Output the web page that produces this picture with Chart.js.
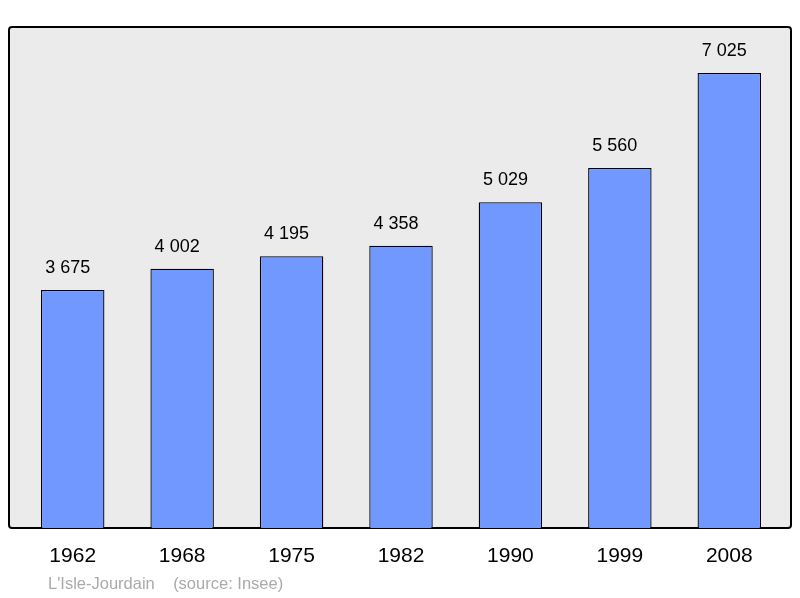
<!DOCTYPE html>
<html lang="fr">
<head>
  <meta charset="UTF-8">
  <title>L'Isle-Jourdain population</title>
  <script src="https://cdn.jsdelivr.net/npm/chart.js"></script>
  <style>
    body { margin: 0; background: #fff; }
    .chart-container { width: 800px; height: 598px; }
  </style>
</head>
<body>
  <div class="chart-container">
    <canvas id="myChart"></canvas>
  </div>
  <script>
    const years = ['1962', '1968', '1975', '1982', '1990', '1999', '2008'];
    const population = [3675, 4002, 4195, 4358, 5029, 5560, 7025];
    const sourceText = "L'Isle-Jourdain    (source: Insee)";

    const fmt = v => String(v).replace(/\B(?=(\d{3})+(?!\d))/g, ' ');

    // frame behind the bars, plus value labels, year labels and source
    const decor = {
      id: 'decor',
      beforeDatasetsDraw(chart) {
        const { ctx, chartArea: a } = chart;
        ctx.save();
        ctx.fillStyle = '#ebebeb';
        ctx.strokeStyle = '#000';
        ctx.lineWidth = 2;
        ctx.beginPath();
        ctx.roundRect(a.left - 9, a.top, a.right - a.left + 16, a.bottom - a.top, 3);
        ctx.fill();
        ctx.stroke();
        ctx.restore();
      },
      afterDatasetsDraw(chart) {
        const { ctx, chartArea: a } = chart;
        const x = chart.scales.x, y = chart.scales.y;
        ctx.save();
        ctx.fillStyle = '#000';
        ctx.textAlign = 'center';
        ctx.textBaseline = 'middle';
        ctx.font = '18px "Liberation Sans", Arial, sans-serif';
        population.forEach((v, i) => {
          ctx.fillText(fmt(v), x.getPixelForValue(i) - 5, y.getPixelForValue(v) - 22);
        });
        ctx.font = '21px "Liberation Sans", Arial, sans-serif';
        years.forEach((yr, i) => {
          ctx.fillText(yr, x.getPixelForValue(i), a.bottom + 28);
        });
        ctx.fillStyle = '#aaa';
        ctx.textAlign = 'left';
        ctx.font = '16.5px "Liberation Sans", Arial, sans-serif';
        ctx.fillText(sourceText, 48, a.bottom + 56);
        ctx.restore();
      }
    };

    new Chart(document.getElementById('myChart'), {
      type: 'bar',
      data: {
        labels: years,
        datasets: [{
          data: population,
          backgroundColor: '#7098ff',
          borderColor: '#000',
          borderWidth: 1.3,
          barPercentage: 0.58,
          categoryPercentage: 1
        }]
      },
      options: {
        responsive: true,
        maintainAspectRatio: false,
        animation: false,
        layout: { padding: { left: 18, right: 16, top: 27, bottom: 70 } },
        scales: {
          x: { display: false },
          y: { display: false, min: 0, max: 7736 }
        },
        plugins: { legend: { display: false }, tooltip: { enabled: false } }
      },
      plugins: [decor]
    });
  </script>
</body>
</html>
